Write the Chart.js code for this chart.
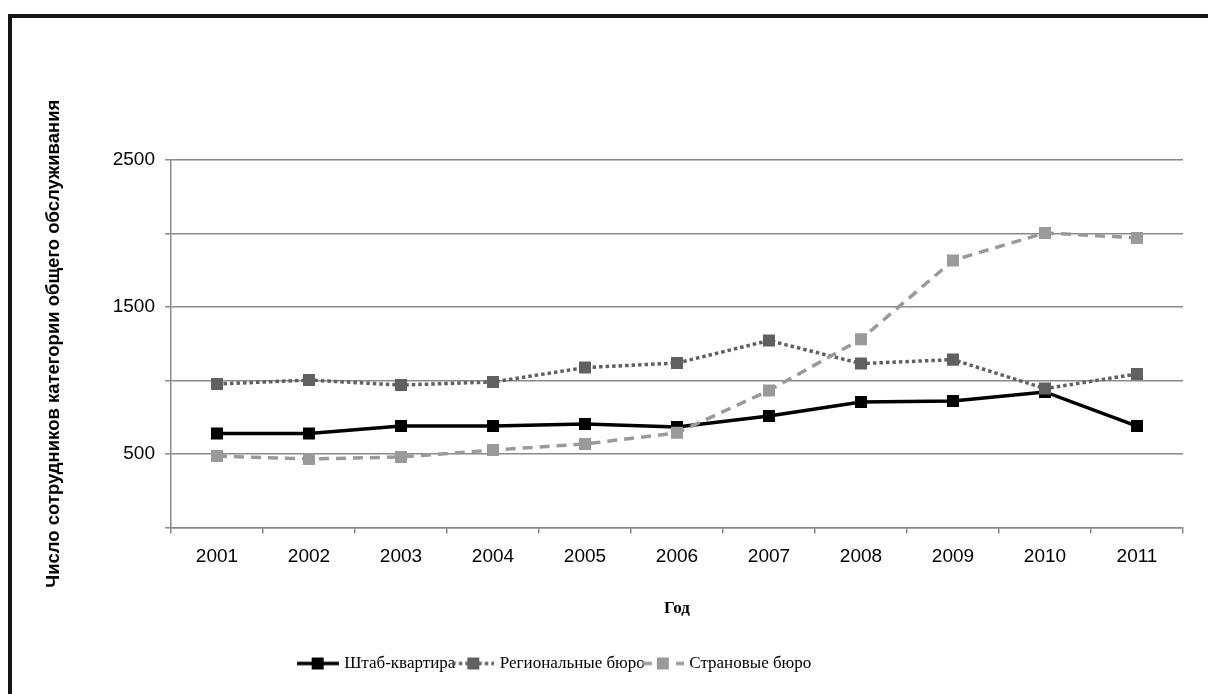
<!DOCTYPE html>
<html>
<head>
<meta charset="utf-8">
<script src="https://cdn.jsdelivr.net/npm/chart.js@4.4.1/dist/chart.umd.min.js"></script>
<style>
  html, body { margin: 0; padding: 0; background: #fff; }
  #wrap { position: relative; width: 1208px; height: 694px; overflow: hidden; }
  #frame { position: absolute; left: 8px; top: 14px; width: 1240px; height: 720px; border: 4px solid #141414; box-sizing: border-box; }
  canvas { position: absolute; left: 0; top: 0; }
</style>
</head>
<body>
<div id="wrap">
  <canvas id="chart" width="1208" height="694"></canvas>
  <div id="frame"></div>
</div>
<script>
  // values
  const years = ["2001", "2002", "2003", "2004", "2005", "2006", "2007", "2008", "2009", "2010", "2011"];
  const headquarters = [640, 640, 690, 690, 704, 684, 758, 854, 860, 922, 690];
  const regionalOffices = [976, 1003, 969, 990, 1088, 1119, 1272, 1115, 1142, 945, 1044];
  const countryOffices = [486, 466, 480, 527, 568, 644, 932, 1281, 1817, 2004, 1970];
  const seriesNames = ["Штаб-квартира", "Региональные бюро", "Страновые бюро"];
  const yTickLabels = [500, 1500, 2500];

  const SANS = "'Liberation Sans', Arial, sans-serif";
  const SERIF = "'Liberation Serif', 'Times New Roman', serif";

  const styles = [
    { color: "#000000", dash: [] },
    { color: "#606060", dash: [3.5, 3] },
    { color: "#9a9a9a", dash: [10, 7] }
  ];

  function legendSymbol(style) {
    const c = document.createElement("canvas");
    c.width = 42;
    c.height = 14;
    const ctx = c.getContext("2d");
    ctx.strokeStyle = style.color;
    ctx.lineWidth = 3.5;
    ctx.setLineDash(style.dash);
    ctx.beginPath();
    ctx.moveTo(0, 7);
    ctx.lineTo(42, 7);
    ctx.stroke();
    ctx.fillStyle = style.color;
    ctx.fillRect(15, 1, 12, 12);
    return c;
  }
  const symbols = styles.map(legendSymbol);

  function series(i, data, order) {
    return {
      label: seriesNames[i],
      data,
      order,
      borderColor: styles[i].color,
      backgroundColor: styles[i].color,
      borderDash: styles[i].dash,
      borderWidth: 3.5,
      tension: 0,
      pointStyle: "rect",
      pointRadius: 8.5,
      pointBorderWidth: 0,
      pointBackgroundColor: styles[i].color
    };
  }

  // legend is not centred on the page in the reference
  const legendShift = {
    id: "legendShift",
    afterLayout(chart) {
      chart.legend.right -= 92;
    }
  };

  new Chart(document.getElementById("chart"), {
    type: "line",
    data: {
      labels: years,
      datasets: [
        series(0, headquarters, 2),
        series(1, regionalOffices, 1),
        series(2, countryOffices, 0)
      ]
    },
    plugins: [legendShift],
    options: {
      responsive: false,
      animation: false,
      devicePixelRatio: 1,
      layout: { padding: { left: 20, right: 25, top: 160, bottom: 12 } },
      plugins: {
        tooltip: { enabled: false },
        legend: {
          position: "bottom",
          labels: {
            usePointStyle: true,
            pointStyleWidth: 36,
            boxHeight: 14,
            padding: 0,
            color: "#000",
            font: { family: SERIF, size: 17 },
            sort: (a, b) => a.datasetIndex - b.datasetIndex,
            generateLabels(chart) {
              const items = Chart.defaults.plugins.legend.labels.generateLabels(chart);
              items.forEach((item) => { item.pointStyle = symbols[item.datasetIndex]; });
              return items;
            }
          }
        }
      },
      scales: {
        x: {
          offset: true,
          grid: { offset: true, drawOnChartArea: false, drawTicks: true, tickLength: 6, color: "#8a8a8a", lineWidth: 1.5 },
          border: { color: "#8a8a8a", width: 1.5 },
          ticks: { color: "#000", font: { family: SANS, size: 19 }, padding: 12, maxRotation: 0, autoSkip: false },
          title: {
            display: true,
            text: "Год",
            color: "#000",
            font: { family: SERIF, size: 17, weight: "bold" },
            padding: { top: 0, bottom: 36 }
          },
          afterFit(scale) { scale.height = 127.5; }
        },
        y: {
          min: 0,
          max: 2500,
          ticks: {
            stepSize: 500,
            color: "#000",
            font: { family: SANS, size: 19 },
            padding: 10,
            callback: (v) => (yTickLabels.includes(v) ? String(v) : "")
          },
          grid: { color: "#8a8a8a", lineWidth: 1.5, tickLength: 6 },
          border: { color: "#8a8a8a", width: 1.5 },
          title: {
            display: true,
            text: "Число сотрудников категории общего обслуживания",
            color: "#000",
            font: { family: SANS, size: 18.5, weight: "bold" },
            padding: { top: 23, bottom: 0 }
          },
          afterFit(scale) { scale.width = 151; }
        }
      }
    }
  });
</script>
</body>
</html>
